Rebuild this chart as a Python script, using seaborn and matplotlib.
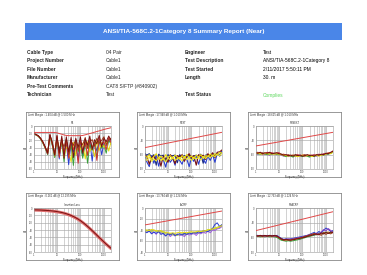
import matplotlib
matplotlib.use('Agg')
import matplotlib.pyplot as plt
import seaborn as sns
import pandas as pd
import numpy as np

W, H = 367, 275

report_title = 'ANSI/TIA-568C.2-1Category 8 Summary Report (Near)'
left_labels = ['Cable Type', 'Project Number', 'File Number', 'Manufacturer', 'Pre-Test Comments', 'Technician']
left_values = ['04 Pair', 'Cable1', 'Cable1', 'Cable1', 'CAT8 S/FTP (#840902)', 'Test']
right_labels = ['Engineer', 'Test Description', 'Test Started', 'Length', '', 'Test Status']
right_values = ['Test', 'ANSI/TIA-568C.2-1Category 8', '2/11/2017 5:50:11 PM', '30. m', '', 'Complies']

freq = [1, 1.25, 1.6, 2, 2.5, 3.15, 4, 5, 6.3, 8, 10, 12.5, 16, 20, 25, 31.5, 40, 50,
        63, 80, 100, 125, 160, 200, 250, 315, 400, 500, 630, 800, 1000, 1250, 1600, 2000]

# return loss
rl_limit = [-9, -9, -9, -9, -9, -9, -9, -9, -9, -9, -9.5, -10.5, -11.5, -12.5, -13.2, -13.5, -13.5, -13.5,
            -13.5, -13.5, -13.5, -13.2, -12.3, -11.4, -10.5, -9.6, -8.6, -7.7, -6.8, -5.8, -4.9, -4.0, -3.2, -2.4]
rl_blue = [-11, -12, -14, -18, -23, -30, -39, -13, -26, -43, -15, -46, -20, -38, -24, -54, -22, -36,
           -25, -47, -21, -42, -26, -31, -20, -49, -23, -35, -19, -40, -24, -28, -18, -26]
rl_green = [-11, -12.5, -14.5, -18, -24, -31, -40, -14, -27, -44, -16, -41, -22, -50, -19, -40, -26, -55,
            -21, -36, -28, -45, -20, -52, -25, -34, -22, -44, -21, -31, -26, -38, -20, -24]
rl_yellow = [-11, -12, -14, -17.5, -23, -30, -38, -13, -25, -42, -15, -40, -18, -43, -29, -35, -50, -23,
             -41, -26, -33, -24, -46, -22, -36, -27, -43, -20, -34, -23, -30, -21, -35, -22]
rl_red = [-10.5, -12, -14, -17, -22, -30, -39, -12, -25, -40, -14, -44, -17, -39, -21, -45, -19, -33,
          -24, -52, -20, -35, -23, -41, -18, -30, -24, -48, -17, -27, -22, -33, -16, -23]
rl_brown = [-10.5, -12, -14, -17.5, -23, -30, -37, -13, -22, -38, -16, -33, -21, -29, -18, -40, -21, -27,
            -19, -34, -23, -26, -16, -31, -22, -19, -28, -17, -24, -20, -15, -26, -19, -17]
rl_maroon = [-10.5, -11.5, -13.5, -17, -22, -29, -38, -12, -24, -41, -13, -38, -14, -45, -15, -36, -16, -44,
             -17, -30, -15, -38, -18, -27, -14, -33, -19, -25, -13, -29, -17, -22, -14, -20]

# NEXT
next_limit_f = [1, 2000]
next_limit = [-45.4, -13.2]
next_yellow = [-62, -66, -60, -70, -64, -58, -68, -63, -71, -60, -66, -62, -69, -61, -65, -70, -62, -67,
               -60, -66, -63, -69, -61, -65, -60, -67, -62, -64, -59, -63, -58, -60, -55, -57]
next_yellow2 = [-68, -72, -65, -74, -69, -73, -66, -72, -68, -75, -67, -71, -65, -72, -68, -66, -73, -64,
                -70, -67, -72, -65, -69, -66, -71, -64, -68, -63, -66, -61, -64, -59, -62, -56]
next_blue = [-58, -75, -85, -62, -78, -60, -84, -66, -70, -86, -64, -76, -68, -82, -63, -72, -80, -64,
             -69, -85, -66, -74, -62, -80, -65, -70, -78, -63, -72, -60, -76, -58, -60, -52]
next_maroon = [-60, -64, -80, -66, -62, -72, -65, -84, -63, -68, -76, -60, -66, -79, -62, -65, -60, -74,
               -63, -58, -67, -62, -82, -60, -64, -61, -70, -58, -63, -56, -66, -55, -54, -50]
next_navy = [-57, -61, -58, -66, -60, -82, -59, -63, -61, -74, -60, -64, -62, -61, -77, -60, -65, -62,
             -66, -60, -71, -63, -61, -65, -59, -78, -61, -60, -64, -58, -62, -57, -63, -53]

# PSNEXT
psnext_limit_f = [1, 2000]
psnext_limit = [-41.9, -13.2]
psnext_red = [-57, -55, -58, -56, -59, -55, -57, -56, -58, -57, -56, -60, -59, -62, -60, -63, -61, -62,
              -60, -63, -61, -60, -63, -61, -62, -60, -62, -59, -61, -58, -59, -56, -57, -52]
psnext_purple = [-58, -59, -57, -60, -58, -59, -61, -57, -59, -60, -58, -61, -63, -61, -64, -62, -61, -64,
                 -62, -61, -63, -64, -61, -63, -62, -61, -63, -60, -62, -59, -60, -58, -56, -54]
psnext_green = [-57, -58, -59, -57, -58, -60, -58, -59, -57, -59, -60, -59, -62, -64, -61, -63, -65, -61,
                -63, -62, -64, -61, -63, -65, -62, -64, -61, -62, -60, -61, -58, -59, -57, -55]
psnext_yellow = [-58, -57, -58, -59, -57, -58, -59, -58, -59, -58, -59, -60, -61, -62, -63, -62, -61, -63,
                 -64, -62, -61, -63, -62, -61, -64, -62, -61, -63, -61, -60, -59, -57, -58, -54]
psnext_maroon = [-56, -57, -55, -58, -56, -57, -55, -58, -57, -56, -58, -59, -61, -60, -62, -61, -63, -60,
                 -62, -61, -63, -62, -60, -62, -61, -63, -60, -61, -59, -60, -57, -58, -55, -53]

# insertion loss
il_limit = [-2.8, -2.9, -3.0, -3.1, -3.3, -3.5, -3.7, -4.0, -4.3, -4.7, -5.2, -5.7, -6.4, -7.2, -8.1, -9.2, -10.5, -11.9,
            -13.6, -15.5, -17.6, -19.9, -22.6, -25.3, -28.1, -31.1, -34.3, -37.3, -40.5, -43.6, -46.6, -49.5, -52.5, -55.3]
il_pair = [-2.5, -2.6, -2.7, -2.8, -3.0, -3.2, -3.4, -3.7, -4.0, -4.4, -4.9, -5.4, -6.1, -6.9, -7.8, -8.9, -10.2, -11.6,
           -13.3, -15.2, -17.3, -19.6, -22.3, -25.0, -27.8, -30.8, -34.0, -37.0, -40.2, -43.3, -46.3, -49.2, -52.2, -55.0]

# ACRF
acrf_limit_f = [1, 2000]
acrf_limit = [-30.9, -5.5]
acrf_gray = [-40, -41, -39, -42, -40, -43, -41, -42, -44, -45, -47, -46, -48, -47, -49, -48, -47, -49,
             -48, -47, -46, -47, -45, -46, -44, -45, -43, -42, -41, -40, -38, -37, -35, -34]
acrf_violet = [-42, -44, -41, -46, -43, -48, -42, -45, -47, -50, -46, -52, -48, -51, -47, -50, -49, -52,
               -47, -49, -48, -46, -50, -45, -47, -44, -46, -42, -45, -40, -41, -38, -37, -33]
acrf_yellow = [-39, -40, -41, -39, -40, -41, -42, -41, -43, -44, -45, -46, -45, -46, -45, -44, -45, -44,
               -45, -44, -43, -44, -43, -42, -43, -42, -41, -40, -39, -38, -37, -36, -34, -32]
acrf_lime = [-41, -42, -40, -43, -41, -42, -44, -43, -45, -47, -48, -47, -49, -48, -50, -47, -48, -46,
             -47, -45, -46, -44, -45, -43, -44, -41, -42, -39, -40, -37, -36, -35, -33, -31]
acrf_blue = [-43, -45, -42, -47, -44, -46, -43, -48, -46, -51, -47, -49, -46, -50, -48, -47, -49, -46,
             -48, -45, -47, -44, -46, -43, -45, -42, -41, -43, -40, -37, -30, -27, -34, -30]

# PSACRF
psacrf_limit_f = [1, 2000]
psacrf_limit = [-46.4, -7.6]
psacrf_orange = [-58, -57, -58, -59, -58, -57, -58, -59, -58, -58, -62, -64, -66, -66, -65, -66, -64, -63,
                 -62, -61, -60, -59, -57, -56, -55, -53, -52, -54, -52, -51, -50, -49, -51, -50]
psacrf_green = [-58, -58, -59, -58, -59, -58, -59, -58, -59, -60, -63, -66, -67, -68, -67, -68, -67, -66,
                -65, -64, -62, -61, -59, -58, -57, -56, -54, -52, -50, -53, -49, -52, -50, -48]
psacrf_blue = [-56, -56, -57, -56, -57, -56, -57, -56, -57, -56, -59, -62, -64, -63, -64, -63, -62, -61,
               -60, -59, -58, -57, -56, -54, -52, -50, -53, -48, -51, -46, -41, -44, -48, -46]
psacrf_purple = [-57, -57, -56, -57, -58, -57, -56, -57, -58, -57, -60, -63, -65, -64, -63, -64, -63, -62,
                 -61, -60, -59, -58, -56, -55, -53, -55, -51, -54, -49, -44, -47, -42, -46, -49]
psacrf_brown = [-57, -58, -57, -58, -57, -58, -57, -58, -57, -58, -61, -64, -66, -65, -66, -65, -64, -63,
                -62, -61, -60, -58, -57, -55, -54, -52, -55, -53, -56, -50, -54, -51, -53, -49]
psacrf_maroon = [-56, -57, -56, -57, -56, -57, -56, -57, -56, -57, -60, -63, -65, -64, -65, -66, -65, -64,
                 -63, -62, -61, -60, -58, -57, -56, -54, -53, -55, -51, -53, -50, -52, -49, -51]

charts = [
    dict(title='Limit Margin : 1.404 dB @ 1.500 MHz', name='RL', ylim=(-60, 0), yticks=[0, -10, -20, -30, -40, -50, -60],
         lim_f=freq, lim=rl_limit, lw=0.7,
         traces={'blue': rl_blue, 'green': rl_green, 'yellow': rl_yellow, 'red': rl_red,
                 'brown': rl_brown, 'maroon': rl_maroon}),
    dict(title='Limit Margin : 17.948 dB @ 1.010 MHz', name='NEXT', ylim=(-90, 0), yticks=[0, -30, -60, -90],
         lim_f=next_limit_f, lim=next_limit, lw=0.8,
         traces={'navy': next_navy, 'blue': next_blue, 'maroon': next_maroon, 'yellow2': next_yellow2,
                 'yellow': next_yellow}),
    dict(title='Limit Margin : 18.625 dB @ 1.010 MHz', name='PSNEXT', ylim=(-90, 0), yticks=[0, -30, -60, -90],
         lim_f=psnext_limit_f, lim=psnext_limit, lw=0.8,
         traces={'red': psnext_red, 'purple': psnext_purple, 'green': psnext_green, 'yellow': psnext_yellow,
                 'maroon': psnext_maroon}),
    dict(title='Limit Margin : 0.261 dB @ 12.195 MHz', name='Insertion Loss', ylim=(-60, 0),
         yticks=[0, -10, -20, -30, -40, -50, -60],
         lim_f=freq, lim=il_limit, lim_lw=2.2, lim_color='#e07070', lw=0.7,
         traces={'maroon': il_pair}),
    dict(title='Limit Margin : 13.784 dB @ 1.124 MHz', name='ACRF', ylim=(-80, 0), yticks=[0, -20, -40, -60, -80],
         lim_f=acrf_limit_f, lim=acrf_limit, lw=0.7,
         traces={'gray': acrf_gray, 'violet': acrf_violet, 'lime': acrf_lime, 'blue': acrf_blue, 'yellow': acrf_yellow}),
    dict(title='Limit Margin : 12.763 dB @ 1.124 MHz', name='PSACRF', ylim=(-90, 0), yticks=[0, -30, -60, -90],
         lim_f=psacrf_limit_f, lim=psacrf_limit, lw=0.7,
         traces={'orange': psacrf_orange, 'green': psacrf_green, 'blue': psacrf_blue, 'purple': psacrf_purple,
                 'brown': psacrf_brown, 'maroon': psacrf_maroon}),
]

colors = {'blue': '#2a3fd0', 'green': '#3aa03a', 'yellow': '#e8dc10', 'yellow2': '#f2ea30', 'red': '#d03030',
          'maroon': '#7a1010', 'navy': '#1c2c80', 'purple': '#8a40c0', 'gray': '#8c8c8c', 'violet': '#a060e0',
          'lime': '#b8d840', 'orange': '#e08020', 'brown': '#9a3a18'}

sns.set_style('white')
plt.rcParams['font.family'] = ['Liberation Sans', 'DejaVu Sans']


def px_axes(fig, x0, y0, x1, y1):
    return fig.add_axes([x0 / W, 1 - y1 / H, (x1 - x0) / W, (y1 - y0) / H])


fig = plt.figure(figsize=(W / 100, H / 100), dpi=100)
fig.patch.set_facecolor('white')

# header bar
fig.patches.append(plt.Rectangle((25 / W, 1 - 40 / H), 317 / W, 17.5 / H, transform=fig.transFigure,
                                 facecolor='#4a86e8', edgecolor='none'))
fig.text(183.5 / W, 1 - 31.5 / H, report_title, color='white', fontsize=4.6, fontweight='bold',
         ha='center', va='center')

# info table
row_y = [52.3, 60.7, 69, 77.7, 86.3, 95]
for i, y in enumerate(row_y):
    fy = 1 - y / H
    fig.text(27 / W, fy, left_labels[i], fontsize=3.5, fontweight='bold', va='center')
    fig.text(106 / W, fy, left_values[i], fontsize=3.5, va='center')
    fig.text(185 / W, fy, right_labels[i], fontsize=3.5, fontweight='bold', va='center')
    fig.text(263 / W, fy, right_values[i], fontsize=3.5, va='center',
             color='#5fd85f' if right_values[i] == 'Complies' else 'black')

box_x = [(26, 119), (137, 230), (248, 341)]
box_y = [(112, 177), (193, 260)]

for k, ch in enumerate(charts):
    bx0, bx1 = box_x[k % 3]
    by0, by1 = box_y[k // 3]
    box = px_axes(fig, bx0, by0, bx1, by1)
    box.set_xticks([])
    box.set_yticks([])
    for s in box.spines.values():
        s.set_color('#888888')
        s.set_linewidth(0.6)
    fig.text((bx0 + 2) / W, 1 - (by0 + 3.3) / H, ch['title'], fontsize=2, color='#333333', va='center')

    top = by0 + (14 if k < 3 else 15)
    ax = px_axes(fig, bx0 + 7.5, top, bx1 - 8, by1 - 8)
    ax.set_xscale('log')

    names = list(ch['traces'].keys())
    df = pd.DataFrame({
        'freq': freq * len(names),
        'value': np.concatenate([ch['traces'][n] for n in names]),
        'pair': np.repeat(names, len(freq)),
    })
    sns.lineplot(data=df, x='freq', y='value', hue='pair', hue_order=names,
                 palette={n: colors[n] for n in names}, estimator=None, sort=False,
                 linewidth=ch['lw'], legend=False, ax=ax)
    ax.plot(ch['lim_f'], ch['lim'], color=ch.get('lim_color', '#e04848'), lw=ch.get('lim_lw', 0.7),
            zorder=1 if k == 3 else 5)

    ax.set_xlim(1, 2000)
    ax.set_ylim(*ch['ylim'])
    ax.set_yticks(ch['yticks'])
    ax.set_yticklabels([str(v) for v in ch['yticks']])
    ax.set_xticks([1, 10, 100, 1000])
    ax.set_xticklabels(['1', '10', '100', '1000'])
    ax.grid(which='major', color='#a8a8a8', lw=0.45)
    ax.grid(which='minor', axis='x', color='#cacaca', lw=0.6)
    ax.tick_params(which='both', labelsize=1.8, length=0, pad=0.8, colors='#444444')
    ax.set_xlabel('Frequency (MHz)', fontsize=1.8, labelpad=0.8)
    ax.set_ylabel('dB', fontsize=1.8, labelpad=0.8)
    ax.set_title(ch['name'], fontsize=1.8, pad=1.5)
    for s in ax.spines.values():
        s.set_color('#999999')
        s.set_linewidth(0.4)

fig.savefig('out.png', dpi=100)
